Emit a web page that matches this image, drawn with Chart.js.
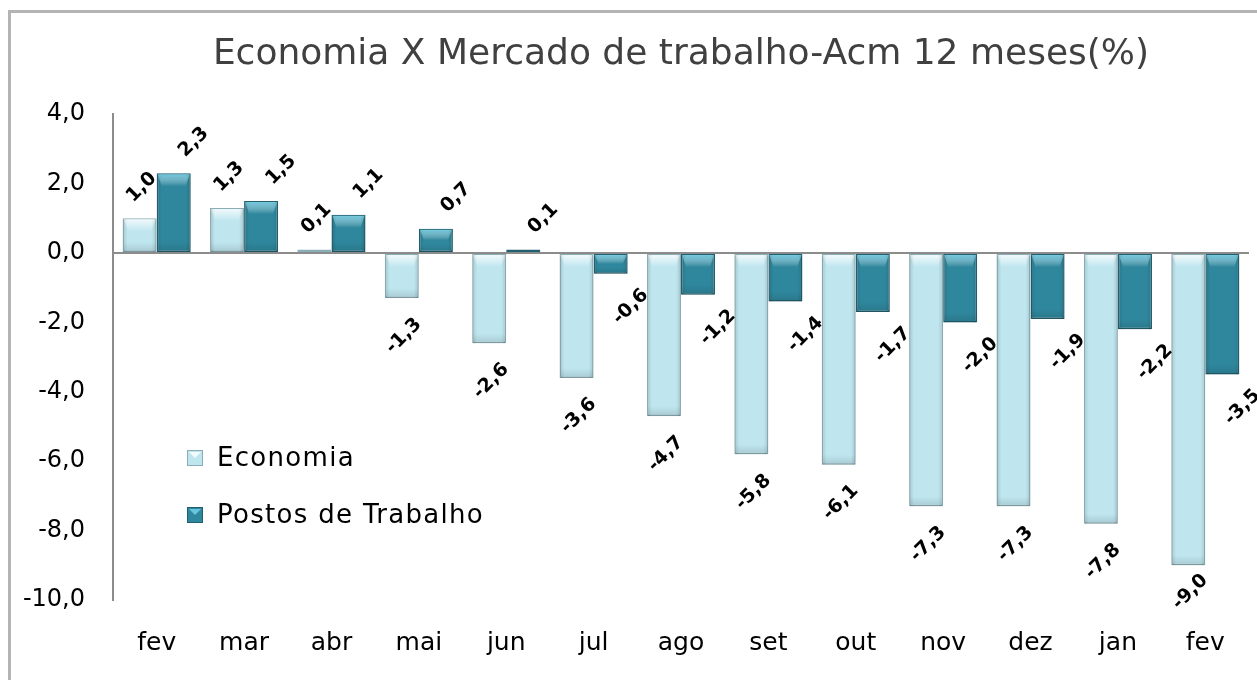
<!DOCTYPE html>
<html>
<head>
<meta charset="utf-8">
<script src="https://cdn.jsdelivr.net/npm/chart.js@4"></script>
<style>
  body { margin: 0; background: #fff; }
  #frame { position: absolute; left: 8px; top: 10px; width: 1300px; height: 800px; border-left: 3px solid #b4b4b4; border-top: 3px solid #b4b4b4; }
  #chart { position: absolute; left: 0; top: 0; }
</style>
</head>
<body>
<div id="frame"></div>
<canvas id="chart" width="1257" height="680"></canvas>
<script>
const months = ["fev", "mar", "abr", "mai", "jun", "jul", "ago", "set", "out", "nov", "dez", "jan", "fev"];
const economia = [1.0, 1.3, 0.1, -1.3, -2.6, -3.6, -4.7, -5.8, -6.1, -7.3, -7.3, -7.8, -9.0];
const postos = [2.3, 1.5, 1.1, 0.7, 0.1, -0.6, -1.2, -1.4, -1.7, -2.0, -1.9, -2.2, -3.5];
const yTicks = [4, 2, 0, -2, -4, -6, -8, -10];

const FONT = "'DejaVu Sans', sans-serif";
const fmt = v => v.toFixed(1).replace(".", ",");

// bevel look on top of the flat bars
const bevel = {
  id: "bevel",
  afterDatasetsDraw(chart) {
    const c = chart.ctx;
    chart.data.datasets.forEach((ds, i) => {
      const hi = i === 0 ? "rgba(255,255,255,0.85)" : "rgba(110,205,230,0.9)";
      chart.getDatasetMeta(i).data.forEach(bar => {
        const { x, y, base, width } = bar.getProps(["x", "y", "base", "width"], true);
        const top = Math.min(y, base), bot = Math.max(y, base);
        const l = x - width / 2, r = x + width / 2, h = bot - top;
        if (h < 3) return;
        const t = Math.min(13, h / 2);
        let g = c.createLinearGradient(0, top, 0, top + t);
        g.addColorStop(0, hi);
        g.addColorStop(1, "rgba(255,255,255,0)");
        c.fillStyle = g;
        c.beginPath();
        c.moveTo(l + 1, top + 1); c.lineTo(r - 1, top + 1);
        c.lineTo(r - 5, top + t); c.lineTo(l + 5, top + t);
        c.closePath(); c.fill();
        const b = Math.min(10, h / 3);
        g = c.createLinearGradient(0, bot - b, 0, bot);
        g.addColorStop(0, "rgba(0,0,0,0)");
        g.addColorStop(1, "rgba(0,0,0,0.12)");
        c.fillStyle = g;
        c.fillRect(l + 1, bot - b, width - 2, b);
        g = c.createLinearGradient(l, 0, l + 5, 0);
        g.addColorStop(0, "rgba(0,0,0,0.14)");
        g.addColorStop(1, "rgba(0,0,0,0)");
        c.fillStyle = g;
        c.fillRect(l + 1, top + 1, 5, h - 1);
        g = c.createLinearGradient(r - 5, 0, r, 0);
        g.addColorStop(0, "rgba(0,0,0,0)");
        g.addColorStop(1, "rgba(0,0,0,0.14)");
        c.fillStyle = g;
        c.fillRect(r - 6, top + 1, 5, h - 1);
      });
    });
  }
};

// rotated value labels, kept inside the plot area
const valueLabels = {
  id: "valueLabels",
  afterDatasetsDraw(chart) {
    const c = chart.ctx;
    const dx = [2, 20];
    const dyNeg = [38, 33];
    const maxY = chart.chartArea.bottom - 8;
    c.save();
    c.font = "bold 19px " + FONT;
    c.fillStyle = "#000";
    c.textAlign = "center";
    c.textBaseline = "middle";
    chart.data.datasets.forEach((ds, i) => {
      chart.getDatasetMeta(i).data.forEach((bar, j) => {
        const v = ds.data[j];
        const x = bar.x + dx[i];
        const y = v >= 0 ? bar.y - 31 : Math.min(bar.y + dyNeg[i], maxY);
        c.save();
        c.translate(x, y);
        c.rotate(-Math.PI / 4);
        c.fillText(fmt(v), 0, 0);
        c.restore();
      });
    });
    c.restore();
  }
};

// legend inside the plot, left side
const innerLegend = {
  id: "innerLegend",
  afterDraw(chart) {
    const c = chart.ctx;
    const ys = [458, 515];
    c.save();
    c.font = "26px " + FONT;
    c.letterSpacing = "1.3px";
    c.textBaseline = "middle";
    chart.data.datasets.forEach((ds, i) => {
      const y = ys[i];
      c.fillStyle = ds.backgroundColor;
      c.fillRect(187, y - 8, 16, 16);
      c.strokeStyle = ds.borderColor;
      c.lineWidth = 1;
      c.strokeRect(187.5, y - 7.5, 15, 15);
      c.fillStyle = i === 0 ? "rgba(255,255,255,0.8)" : "rgba(110,205,230,0.9)";
      c.beginPath();
      c.moveTo(189, y - 6); c.lineTo(201, y - 6); c.lineTo(195, y);
      c.closePath(); c.fill();
      c.fillStyle = "#000";
      c.fillText(ds.label, 217, y + 1);
    });
    c.restore();
  }
};

new Chart(document.getElementById("chart"), {
  type: "bar",
  data: {
    labels: months,
    datasets: [
      {
        label: "Economia",
        data: economia,
        backgroundColor: "#bfe6ef",
        borderColor: "#8aaeb7",
        borderWidth: 1.5,
        borderSkipped: false,
        categoryPercentage: 0.78,
        barPercentage: 1.0
      },
      {
        label: "Postos de Trabalho",
        data: postos,
        backgroundColor: "#2f879d",
        borderColor: "#22606f",
        borderWidth: 1.5,
        borderSkipped: false,
        categoryPercentage: 0.78,
        barPercentage: 1.0
      }
    ]
  },
  options: {
    responsive: false,
    devicePixelRatio: 1,
    animation: false,
    layout: { padding: { left: 0, right: 8, top: 0, bottom: 0 } },
    plugins: {
      legend: { display: false },
      tooltip: { enabled: false },
      title: {
        display: true,
        text: "Economia X Mercado de trabalho-Acm 12 meses(%)",
        fullSize: false,
        color: "#404040",
        font: { family: FONT, size: 36, weight: "normal", lineHeight: 1.2 },
        padding: { top: 33, bottom: 38 }
      }
    },
    scales: {
      x: {
        grid: { display: false },
        border: { display: false },
        ticks: { color: "#000", font: { family: FONT, size: 25 }, padding: 20 },
        afterFit: s => { s.height = 80; }
      },
      y: {
        min: -10,
        max: 4,
        afterBuildTicks: s => { s.ticks = yTicks.map(v => ({ value: v })); },
        ticks: { color: "#000", font: { family: FONT, size: 24 }, padding: 28, callback: v => fmt(v) },
        grid: {
          drawTicks: false,
          lineWidth: 2,
          color: ctx => (ctx.tick && ctx.tick.value === 0 ? "#8c8c8c" : "rgba(0,0,0,0)")
        },
        border: { color: "#8c8c8c", width: 2 },
        afterFit: s => { s.width = 113; }
      }
    }
  },
  plugins: [bevel, valueLabels, innerLegend]
});
</script>
</body>
</html>
